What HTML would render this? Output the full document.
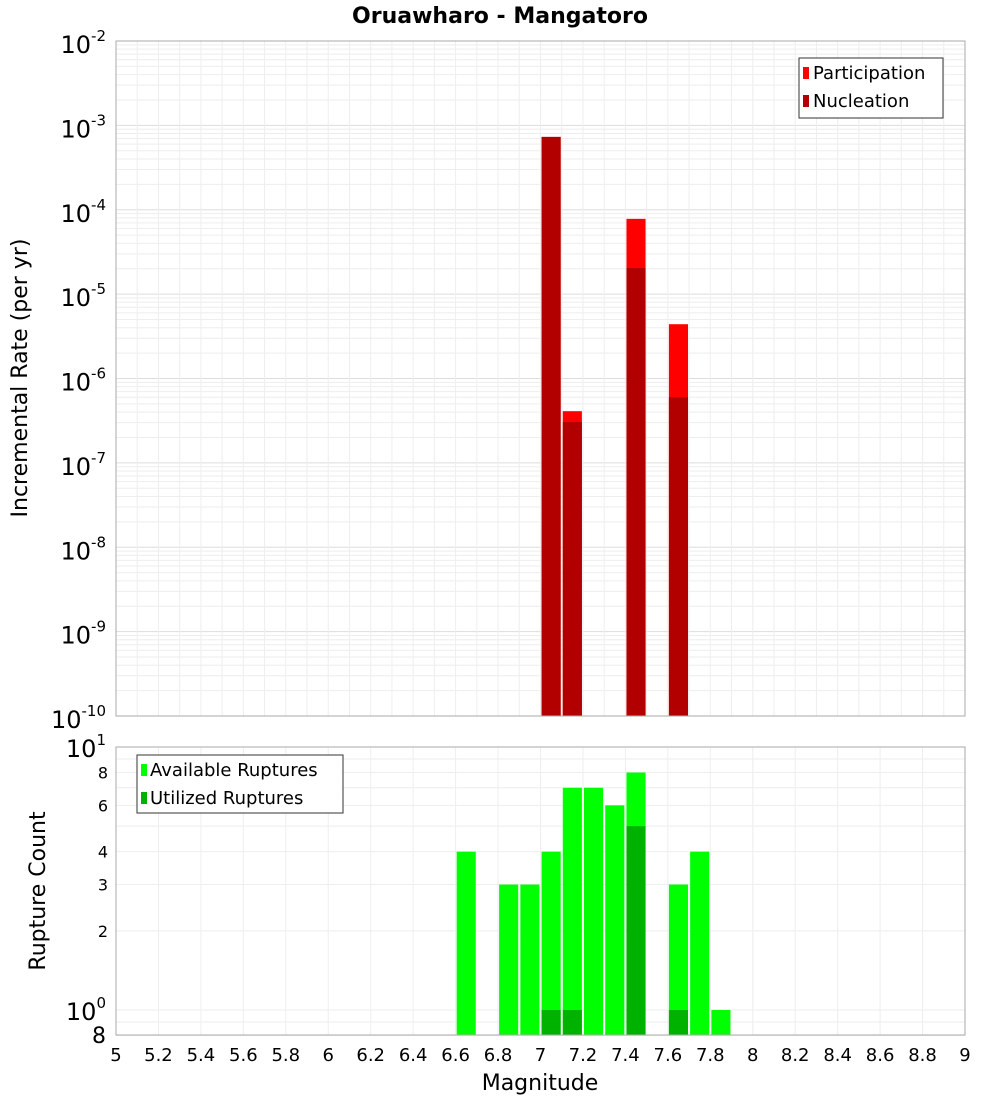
<!DOCTYPE html>
<html><head><meta charset="utf-8"><style>
body{margin:0;background:#fff;font-family:"Liberation Sans","DejaVu Sans",sans-serif}
svg text{font-family:"DejaVu Sans","Liberation Sans",sans-serif}
</style></head><body>
<svg id="c" width="1000" height="1100" xmlns="http://www.w3.org/2000/svg">
<rect width="1000" height="1100" fill="#fff"/>
<text x="500" y="23" text-anchor="middle" font-size="22" font-weight="bold">Oruawharo - Mangatoro</text>
<text transform="translate(27,378) rotate(-90)" text-anchor="middle" font-size="22">Incremental Rate (per yr)</text>
<text transform="translate(45,891) rotate(-90)" text-anchor="middle" font-size="22">Rupture Count</text>
<text x="540" y="1090" text-anchor="middle" font-size="22">Magnitude</text>
<g id="topg"></g><g id="botg"></g>
</svg>
<script>
const mags=[7.05,7.15,7.45,7.65];
const participation=[7.3e-4,4.1e-7,7.8e-5,4.4e-6];
const nucleation=[7.3e-4,3.05e-7,2.04e-5,6.0e-7];
const countMags=[6.65,6.85,6.95,7.05,7.15,7.25,7.35,7.45,7.65,7.75,7.85];
const available=[4,3,3,4,7,7,6,8,3,4,1];
const utilMags=[7.05,7.15,7.45,7.65];
const utilized=[1,1,5,1];
const xTicks=[5,5.2,5.4,5.6,5.8,6,6.2,6.4,6.6,6.8,7,7.2,7.4,7.6,7.8,8,8.2,8.4,8.6,8.8,9];
const topDecades=[-10,-9,-8,-7,-6,-5,-4,-3,-2];
const botTicks=[8,6,4,3,2];

const NS="http://www.w3.org/2000/svg";
const L=116,R=965;
const X=m=>L+(m-5)*(R-L)/4;
const YT=v=>41+(-2-Math.log10(v))*84.375;
const YB=v=>1010-Math.log10(v)*263;
function el(p,t,a,txt){const e=document.createElementNS(NS,t);for(const k in a)e.setAttribute(k,a[k]);if(txt!==undefined)e.textContent=txt;p.appendChild(e);return e;}
const gTop=document.getElementById('topg'),gBot=document.getElementById('botg');
for(let d=-10;d<-2;d++)for(let k=1;k<10;k++){const y=YT(k*Math.pow(10,d));
 const g=el(gTop,'line',{x1:L,x2:R,y1:y,y2:y,stroke:k==1?'#ddd':'#eee','stroke-width':1});
 
 }
for(let i=0;i<=40;i++){const x=X(5+i*0.1);
 const g=el(gTop,'line',{x1:x,x2:x,y1:41,y2:716,stroke:'#eee'});
 
 }
mags.forEach((m,i)=>{
 const x0=X(m-0.045),w=X(m+0.045)-x0;
 const b=el(gTop,'rect',{x:x0,y:YT(participation[i]),width:w,height:716-YT(participation[i]),fill:'#ff0000'});
 
 
 const n=el(gTop,'rect',{x:x0,y:YT(nucleation[i]),width:w,height:716-YT(nucleation[i]),fill:'#b20000'});
 
 
});
el(gTop,'rect',{x:L,y:41,width:R-L,height:675,fill:'none',stroke:'#aaa'});
topDecades.forEach(d=>{const y=YT(Math.pow(10,d));
 const t=el(gTop,'text',{x:106,y:y+12,'text-anchor':'end','font-size':24});
 
 
 el(t,'tspan',{},'10');el(t,'tspan',{dy:-12,'font-size':15},String(d));});
const lg=el(gTop,'g',{});


el(lg,'rect',{x:799,y:58,width:144,height:60,fill:'#fff',stroke:'#333'});
el(lg,'rect',{x:803,y:67,width:6,height:12,fill:'#ff0000'});
el(lg,'text',{x:813,y:79,'font-size':18},'Participation');
el(lg,'rect',{x:803,y:95,width:6,height:12,fill:'#b20000'});
el(lg,'text',{x:813,y:107,'font-size':18},'Nucleation');
const gv=[0.8,0.9,1,2,3,4,5,6,7,8,9];
gv.forEach(v=>{const y=YB(v);
 const g=el(gBot,'line',{x1:L,x2:R,y1:y,y2:y,stroke:'#eee'});
 
 });
xTicks.forEach(m=>{const x=X(m);
 const g=el(gBot,'line',{x1:x,x2:x,y1:747,y2:1035,stroke:'#eee'});
 
 });
countMags.forEach((m,i)=>{const x0=X(m-0.045),w=X(m+0.045)-x0;
 const b=el(gBot,'rect',{x:x0,y:YB(available[i]),width:w,height:1035-YB(available[i]),fill:'#00ff00'});
 
 });
utilMags.forEach((m,i)=>{const x0=X(m-0.045),w=X(m+0.045)-x0;
 const b=el(gBot,'rect',{x:x0,y:YB(utilized[i]),width:w,height:1035-YB(utilized[i]),fill:'#00b200'});
 
 });
el(gBot,'rect',{x:L,y:747,width:R-L,height:288,fill:'none',stroke:'#aaa'});
botTicks.forEach(v=>{const t=el(gBot,'text',{x:108,y:YB(v)+6,'text-anchor':'end','font-size':16},String(v));
 
 });
[[1,747],[0,1010]].forEach(([p,y])=>{const t=el(gBot,'text',{x:106,y:y+10,'text-anchor':'end','font-size':24});
 
 
 el(t,'tspan',{},'10');el(t,'tspan',{dy:-12,'font-size':15},String(p));});
const t8=el(gBot,'text',{x:106,y:1043,'text-anchor':'end','font-size':22},'8');


xTicks.forEach(m=>{const t=el(gBot,'text',{x:X(m),y:1061,'text-anchor':'middle','font-size':18},String(m));
 
 });
const lb=el(gBot,'g',{});


el(lb,'rect',{x:137,y:755,width:206,height:58,fill:'#fff',stroke:'#333'});
el(lb,'rect',{x:141,y:764,width:6,height:12,fill:'#00ff00'});
el(lb,'text',{x:150,y:776,'font-size':18},'Available Ruptures');
el(lb,'rect',{x:141,y:792,width:6,height:12,fill:'#00b200'});
el(lb,'text',{x:150,y:804,'font-size':18},'Utilized Ruptures');
</script>
</body></html>
